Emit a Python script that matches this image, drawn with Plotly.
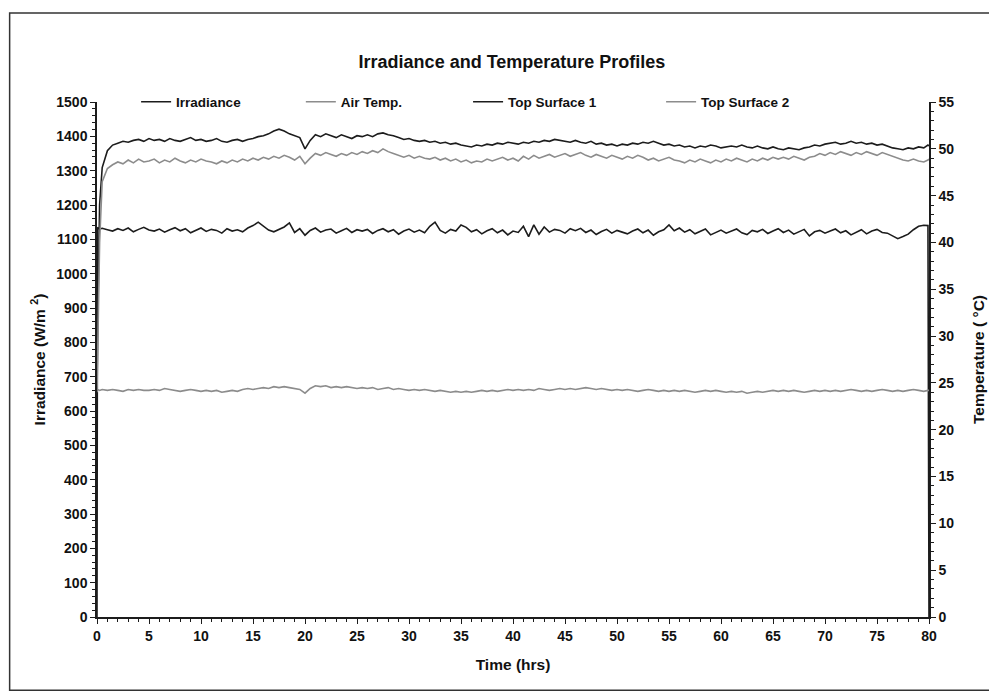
import plotly.graph_objects as go

# ---- data ----
time_hrs = [0, 0.05, 0.25, 0.5,
    1.0, 1.5, 2.0, 2.5, 3.0, 3.5, 4.0, 4.5, 5.0, 5.5,
    6.0, 6.5, 7.0, 7.5, 8.0, 8.5, 9.0, 9.5, 10.0, 10.5,
    11.0, 11.5, 12.0, 12.5, 13.0, 13.5, 14.0, 14.5, 15.0, 15.5,
    16.0, 16.5, 17.0, 17.5, 18.0, 18.5, 19.0, 19.5, 20.0, 20.5,
    21.0, 21.5, 22.0, 22.5, 23.0, 23.5, 24.0, 24.5, 25.0, 25.5,
    26.0, 26.5, 27.0, 27.5, 28.0, 28.5, 29.0, 29.5, 30.0, 30.5,
    31.0, 31.5, 32.0, 32.5, 33.0, 33.5, 34.0, 34.5, 35.0, 35.5,
    36.0, 36.5, 37.0, 37.5, 38.0, 38.5, 39.0, 39.5, 40.0, 40.5,
    41.0, 41.5, 42.0, 42.5, 43.0, 43.5, 44.0, 44.5, 45.0, 45.5,
    46.0, 46.5, 47.0, 47.5, 48.0, 48.5, 49.0, 49.5, 50.0, 50.5,
    51.0, 51.5, 52.0, 52.5, 53.0, 53.5, 54.0, 54.5, 55.0, 55.5,
    56.0, 56.5, 57.0, 57.5, 58.0, 58.5, 59.0, 59.5, 60.0, 60.5,
    61.0, 61.5, 62.0, 62.5, 63.0, 63.5, 64.0, 64.5, 65.0, 65.5,
    66.0, 66.5, 67.0, 67.5, 68.0, 68.5, 69.0, 69.5, 70.0, 70.5,
    71.0, 71.5, 72.0, 72.5, 73.0, 73.5, 74.0, 74.5, 75.0, 75.5,
    76.0, 76.5, 77.0, 77.5, 78.0, 78.5, 79.0, 79.5,
    79.9, 80.0]

irradiance = [0, 1135, 1130, 1132,
    1128, 1124, 1131, 1126, 1133, 1122, 1129, 1135, 1127, 1124,
    1130, 1121, 1128, 1134, 1125, 1131, 1119, 1127, 1133, 1123,
    1129, 1126, 1118, 1131, 1124, 1128, 1122, 1133, 1140, 1150,
    1138, 1127, 1122, 1129, 1136, 1148, 1120, 1131, 1112, 1126,
    1133, 1121, 1127, 1130, 1118, 1125, 1132, 1120, 1128, 1124,
    1129, 1117, 1126, 1131, 1122, 1128, 1115, 1124, 1130, 1121,
    1127, 1119, 1138, 1150, 1126, 1118, 1129, 1124, 1142, 1135,
    1122, 1128, 1116, 1125, 1131, 1119, 1127, 1113, 1124, 1120,
    1138, 1108, 1142, 1115, 1136, 1121, 1129, 1126, 1118, 1131,
    1125, 1132, 1120, 1127, 1114, 1123, 1129, 1118, 1126, 1121,
    1116, 1124, 1130, 1119, 1127, 1112, 1122, 1128, 1142, 1125,
    1133, 1121, 1128, 1116, 1124, 1130, 1113, 1121, 1127, 1118,
    1125, 1130, 1119, 1114, 1126, 1122, 1129, 1117, 1124, 1131,
    1120, 1127, 1115, 1123, 1129, 1110, 1122, 1126, 1118, 1124,
    1130, 1119, 1125, 1113, 1121, 1128, 1116, 1124, 1129, 1120,
    1118, 1110, 1102, 1108, 1115, 1128, 1138, 1141,
    1140, 0]

air_temp = [24.3, 24.3, 24.2, 24.3,
    24.2, 24.3, 24.2, 24.1, 24.3, 24.2, 24.3, 24.2, 24.2, 24.3,
    24.2, 24.4, 24.3, 24.2, 24.1, 24.2, 24.3, 24.2, 24.1, 24.2,
    24.1, 24.2, 24.0, 24.1, 24.2, 24.1, 24.3, 24.4, 24.3, 24.4,
    24.5, 24.4, 24.6, 24.5, 24.6, 24.5, 24.4, 24.3, 23.9, 24.4,
    24.7, 24.6, 24.7, 24.5, 24.6, 24.5, 24.6, 24.5, 24.4, 24.5,
    24.4, 24.5, 24.3, 24.4, 24.5, 24.3, 24.4, 24.3, 24.2, 24.3,
    24.2, 24.3, 24.2, 24.1, 24.2, 24.1, 24.0, 24.1, 24.0, 24.1,
    24.0, 24.1, 24.2, 24.1, 24.2, 24.1, 24.2, 24.3, 24.2, 24.3,
    24.2, 24.3, 24.2, 24.4, 24.3, 24.2, 24.3, 24.4, 24.3, 24.4,
    24.3, 24.4, 24.5, 24.4, 24.3, 24.4, 24.3, 24.2, 24.3, 24.2,
    24.3, 24.2, 24.1, 24.2, 24.3, 24.2, 24.1, 24.2, 24.1, 24.2,
    24.1, 24.2, 24.1, 24.0, 24.1, 24.2, 24.1, 24.2, 24.1, 24.0,
    24.1, 24.0, 24.1, 23.9, 24.0, 24.1, 24.0, 24.1, 24.2, 24.1,
    24.2, 24.1, 24.2, 24.1, 24.0, 24.1, 24.2, 24.1, 24.2, 24.1,
    24.2, 24.1, 24.2, 24.3, 24.2, 24.1, 24.2, 24.1, 24.2, 24.3,
    24.2, 24.1, 24.2, 24.1, 24.2, 24.3, 24.2, 24.1,
    24.2, 24.2]

top_surface_1 = [24.0, 30.0, 44.0, 48.0,
    49.8, 50.4, 50.6, 50.8, 50.7, 50.9, 51.0, 50.8, 51.1, 50.9,
    51.0, 50.8, 51.1, 50.9, 50.8, 51.0, 51.2, 50.9, 51.0, 50.8,
    50.9, 51.1, 50.8, 50.7, 50.9, 51.0, 50.8, 51.0, 51.1, 51.3,
    51.4, 51.6, 51.9, 52.1, 51.9, 51.6, 51.4, 51.2, 50.0, 50.9,
    51.5, 51.3, 51.6, 51.4, 51.2, 51.5, 51.3, 51.1, 51.4, 51.3,
    51.5, 51.3, 51.6, 51.7, 51.5, 51.4, 51.2, 51.0, 51.1, 50.9,
    50.8, 50.9, 50.7, 50.8, 50.6, 50.7, 50.5, 50.6, 50.4, 50.3,
    50.2, 50.4, 50.3, 50.5, 50.4, 50.6, 50.5, 50.7, 50.6, 50.5,
    50.7, 50.6, 50.8, 50.7, 50.9, 50.8, 51.0, 50.9, 50.8, 50.7,
    50.9, 50.7, 50.6, 50.8, 50.5, 50.6, 50.4, 50.5, 50.3, 50.5,
    50.4, 50.6, 50.5, 50.7, 50.6, 50.8, 50.6, 50.4, 50.5, 50.3,
    50.4, 50.2, 50.3, 50.1, 50.3, 50.2, 50.4, 50.3, 50.1, 50.2,
    50.3, 50.2, 50.4, 50.2, 50.1, 50.3, 50.1, 50.0, 50.2, 50.0,
    49.9, 50.1, 50.0, 49.9, 50.1, 50.2, 50.4, 50.3, 50.5, 50.6,
    50.7, 50.5, 50.6, 50.8, 50.6, 50.7, 50.5, 50.6, 50.4, 50.5,
    50.3, 50.1, 50.0, 49.9, 50.1, 50.0, 50.2, 50.1,
    50.4, 50.3]

top_surface_2 = [24.0, 28.0, 40.0, 46.5,
    47.9, 48.3, 48.6, 48.4, 48.8, 48.5, 48.9, 48.6, 48.7, 48.9,
    48.5, 48.8, 48.6, 49.0, 48.7, 48.5, 48.8, 48.6, 48.9, 48.7,
    48.6, 48.4, 48.7, 48.5, 48.8, 48.6, 48.9, 48.7, 49.0, 48.8,
    49.1, 48.9, 49.2, 49.0, 49.3, 49.1, 48.8, 49.2, 48.4, 49.0,
    49.5, 49.3, 49.6, 49.4, 49.2, 49.5, 49.3, 49.6, 49.4, 49.7,
    49.5, 49.8, 49.6, 50.0, 49.7, 49.5, 49.3, 49.1, 49.3, 49.0,
    49.2, 49.0, 48.9, 49.1, 48.8, 49.0, 48.7, 48.9, 48.6, 48.8,
    48.5, 48.7, 48.6, 48.9, 48.7, 48.9, 49.1, 48.8, 49.0, 48.7,
    49.2, 48.9, 49.3, 49.0, 49.2, 49.4, 49.1, 49.3, 49.5, 49.2,
    49.4, 49.6, 49.3, 49.1, 49.4, 49.2, 49.0, 49.3, 49.1, 48.9,
    49.2, 49.0, 49.3, 49.1, 48.8, 49.0, 48.7, 48.9, 49.1, 48.8,
    48.7, 48.5, 48.8, 48.6, 48.9, 48.7, 48.5, 48.8, 48.6, 48.9,
    48.7, 49.0, 48.8, 48.6, 48.9, 48.7, 49.0, 48.8, 49.1, 48.9,
    49.1, 48.9, 49.2, 49.0, 48.8, 49.1, 49.2, 49.5, 49.3, 49.6,
    49.4, 49.7, 49.5, 49.3, 49.6, 49.4, 49.7, 49.5, 49.3, 49.6,
    49.4, 49.2, 49.0, 48.8, 48.7, 48.9, 48.7, 48.6,
    48.8, 48.9]

names = ["Irradiance", "Air Temp.", "Top Surface 1", "Top Surface 2"]

# ---- styling ----
BLACK = "#1c1c1c"
GRAY = "#8c8c8c"
FONT = "Liberation Sans"

fig = go.Figure()
series = [
    (irradiance, names[0], BLACK, "y", "legend"),
    (air_temp, names[1], GRAY, "y2", "legend2"),
    (top_surface_1, names[2], BLACK, "y2", "legend3"),
    (top_surface_2, names[3], GRAY, "y2", "legend4"),
]
for vals, nm, col, ya, lg in series:
    fig.add_trace(go.Scatter(x=time_hrs, y=vals, name=nm, mode="lines",
                             line=dict(color=col, width=1.6),
                             yaxis=ya, legend=lg, showlegend=True))

axis_common = dict(showgrid=False, zeroline=False, linecolor=BLACK, linewidth=1.5,
                   tickcolor=BLACK, tickwidth=1.2, mirror=False)
tickfont = dict(family=FONT, size=14, color="#111111", weight="bold")
titlefont = dict(family=FONT, size=15.5, color="#111111")

fig.update_layout(
    width=989, height=685,
    showlegend=True,
    margin=dict(l=89, r=68, t=94, b=76),
    paper_bgcolor="white", plot_bgcolor="white",
    font=dict(family=FONT, color="#111111"),
    title=dict(text="<b>Irradiance and Temperature Profiles</b>",
               x=0.5096, xanchor="center", y=0.921, yanchor="middle",
               font=dict(family=FONT, size=18, color="#111111")),
    xaxis=dict(range=[0, 80], dtick=5, tick0=0, ticks="outside", ticklen=5,
               minor=dict(dtick=1, ticks="outside", ticklen=3, tickcolor=BLACK),
               showline=True, tickfont=tickfont,
               title=dict(text="<b>Time (hrs)</b>", font=titlefont, standoff=17),
               **axis_common),
    xaxis2=dict(range=[0, 80], dtick=5, tick0=0, ticks="inside", ticklen=5,
                minor=dict(dtick=1, ticks="inside", ticklen=3, tickcolor=BLACK),
                showticklabels=False, overlaying="x", anchor="y", side="bottom",
                showline=False, showgrid=False, zeroline=False, tickcolor=BLACK, tickwidth=1.2),
    yaxis=dict(range=[0, 1500], dtick=100, tick0=0, ticks="outside", ticklen=5,
               minor=dict(dtick=20, ticks="outside", ticklen=3, tickcolor=BLACK),
               showline=True, tickfont=tickfont,
               title=dict(text="<b>Irradiance (W/m <sup>2</sup>)</b>", font=titlefont, standoff=7),
               **axis_common),
    yaxis2=dict(range=[0, 55], dtick=5, tick0=0, ticks="outside", ticklen=5,
                minor=dict(dtick=1, ticks="outside", ticklen=3, tickcolor=BLACK),
                showline=True, overlaying="y", side="right", anchor="x", tickfont=tickfont,
                title=dict(text="<b>Temperature ( °C)</b>", font=titlefont, standoff=20),
                **axis_common),
    yaxis3=dict(range=[0, 1500], dtick=100, tick0=0, ticks="inside", ticklen=5,
                minor=dict(dtick=20, ticks="inside", ticklen=3, tickcolor=BLACK),
                showticklabels=False, overlaying="y", side="left", anchor="x",
                showline=False, showgrid=False, zeroline=False, tickcolor=BLACK, tickwidth=1.2),
    yaxis4=dict(range=[0, 55], dtick=5, tick0=0, ticks="inside", ticklen=5,
                minor=dict(dtick=1, ticks="inside", ticklen=3, tickcolor=BLACK),
                showticklabels=False, overlaying="y", side="right", anchor="x",
                showline=False, showgrid=False, zeroline=False, tickcolor=BLACK, tickwidth=1.2),
)

legend_x = [0.047, 0.245, 0.446, 0.678]
for i, key in enumerate(["legend", "legend2", "legend3", "legend4"]):
    fig.update_layout({key: dict(x=legend_x[i], xanchor="left", y=1.0, yanchor="middle",
                                 orientation="h", bgcolor="rgba(0,0,0,0)",
                                 font=dict(family=FONT, size=13.5, color="#111111", weight="bold"),
                                 itemwidth=30, visible=True)})

# outer frame of the figure (right edge runs off the page, as in the scan)
fig.add_shape(type="rect", xref="paper", yref="paper",
              x0=-0.105, x1=1.3, y0=-0.142, y1=1.173,
              line=dict(color="#333333", width=1.5), layer="below")

fig.write_html("out.html")
